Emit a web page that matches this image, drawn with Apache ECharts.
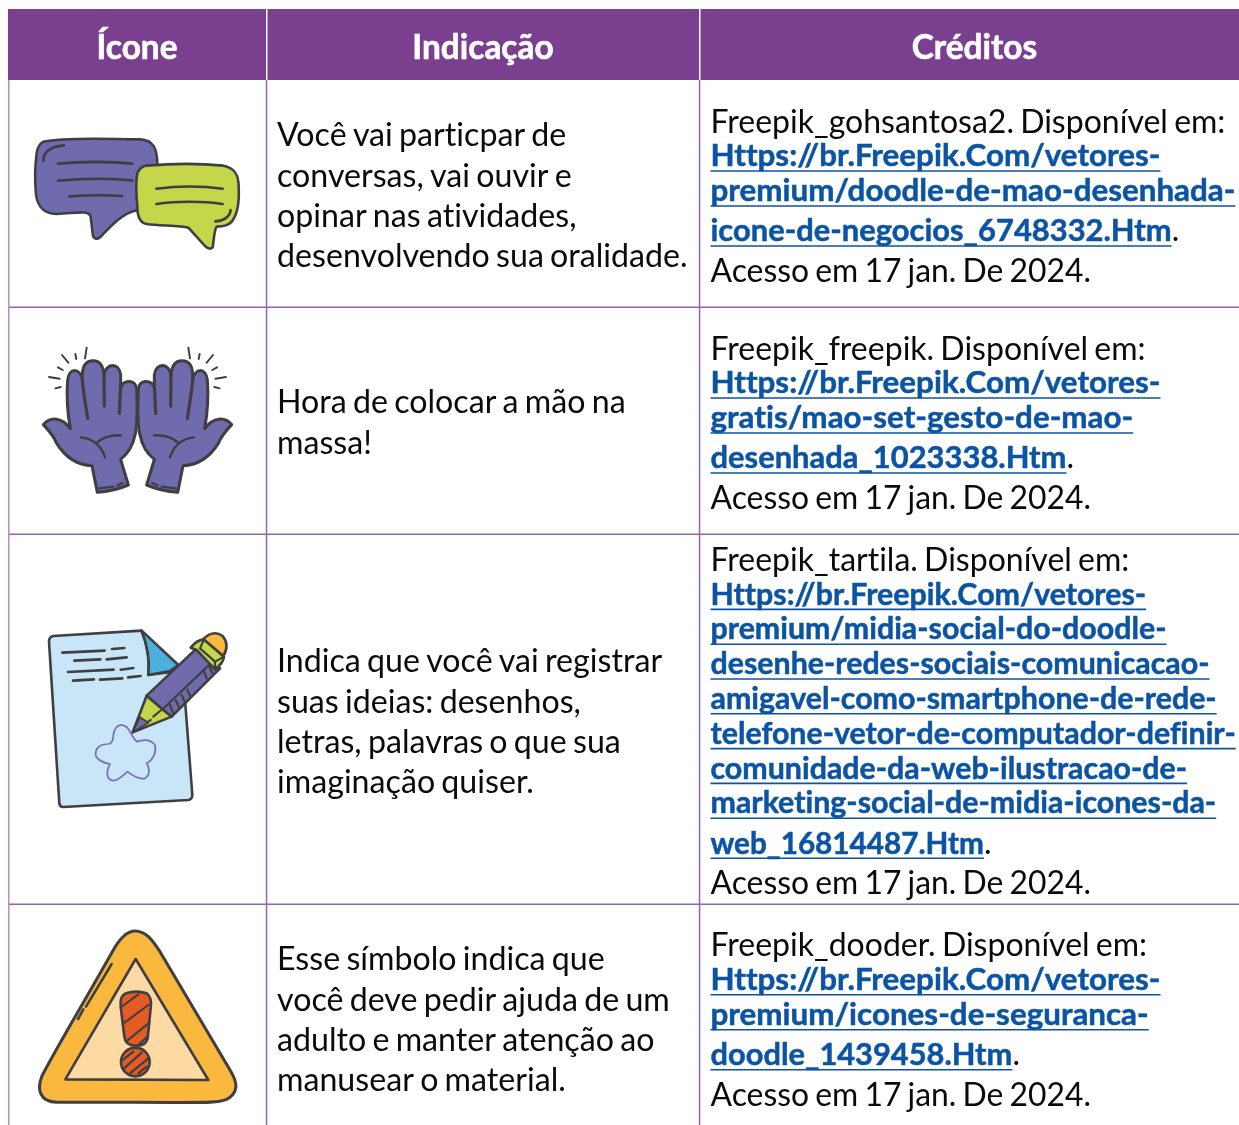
<!DOCTYPE html>
<html><head><meta charset="utf-8">
<style>html,body{margin:0;padding:0;background:#fff}#c{width:1239px;height:1125px}</style>
<script src="https://cdn.jsdelivr.net/npm/echarts@6/dist/echarts.min.js"></script>
</head><body><div id="c"></div>
<script>
const headers = ['Ícone','Indicação','Créditos'];
const indications = [
 ['Você vai particpar de','conversas, vai ouvir e','opinar nas atividades,','desenvolvendo sua oralidade.'],
 ['Hora de colocar a mão na','massa!'],
 ['Indica que você vai registrar','suas ideias: desenhos,','letras, palavras o que sua','imaginação quiser.'],
 ['Esse símbolo indica que','você deve pedir ajuda de um','adulto e manter atenção ao','manusear o material.']
];
const creditTitles = ['Freepik_gohsantosa2. Disponível em:','Freepik_freepik. Disponível em:','Freepik_tartila. Disponível em:','Freepik_dooder. Disponível em:'];
const creditLinks = [
 ['Https://br.Freepik.Com/vetores-','premium/doodle-de-mao-desenhada-','icone-de-negocios_6748332.Htm'],
 ['Https://br.Freepik.Com/vetores-','gratis/mao-set-gesto-de-mao-','desenhada_1023338.Htm'],
 ['Https://br.Freepik.Com/vetores-','premium/midia-social-do-doodle-','desenhe-redes-sociais-comunicacao-','amigavel-como-smartphone-de-rede-','telefone-vetor-de-computador-definir-','comunidade-da-web-ilustracao-de-','marketing-social-de-midia-icones-da-','web_16814487.Htm'],
 ['Https://br.Freepik.Com/vetores-','premium/icones-de-seguranca-','doodle_1439458.Htm']
];
const creditAccess = 'Acesso em 17 jan. De 2024.';

// Tight word spacing and no ligatures, as in the reference's typesetting
function spacing(ctx){ctx.letterSpacing='0.01px';ctx.wordSpacing='-2px';}
['fillText','strokeText'].forEach(m=>{
 const orig=CanvasRenderingContext2D.prototype[m];
 CanvasRenderingContext2D.prototype[m]=function(){spacing(this);return orig.apply(this,arguments);};
});

const PURPLE='#7b3f8f', LINE='#9464ab', INK='#3f3f41', BLUE='#6f6bad', GREEN='#c5d64b', SKY='#c9e6f9', OR='#fbb83f', TEXT='#0a0a0a', LINK='#0b54a4';
const REG='"Lato"', W1=8, X1=266, X2=699, RIGHT=1239;
const rowTops=[80,307,534,904,1125];
const indBase=[146,413,672,970], credBase=[132.3,359.3,570.7,956];
const linkSize=[31.35,31.35,30.35,31.35], linkLastSize=[30.9,30.9,29.7,30.8], linkStep=[35,35,34.8,35];
const BASE_K=0.81;
const measure=document.createElement('canvas').getContext('2d');
spacing(measure);

function p(d,fill,lw,stroke){return {type:'path',shape:{pathData:d},style:{fill:fill||'none',stroke:stroke||INK,lineWidth:(lw==null?6:lw)*1.3,lineCap:'round',lineJoin:'round'}};}
function txt(text,x,y,weight,size,fill,align,bolden){
 const style={text,x,y:y-size*BASE_K,font:weight+' '+size+'px '+REG,fill,textAlign:align||'left',textBaseline:'top'};
 if(bolden){style.stroke=fill;style.lineWidth=bolden;}
 return {type:'text',style};
}
function rect(x,y,w,h,fill){return {type:'rect',shape:{x,y,width:w,height:h},style:{fill}};}

const HAND=[
 p('M292 577L276 497C230 495 195 470 170 430C160 405 145 390 130 374C150 350 185 350 211 386C203 340 199 290 203 240C207 202 240 202 247 240C245 200 255 182 280 182C300 182 310 200 312 225C316 190 358 185 362 225L362 262C372 238 408 238 410 268C412 320 412 380 405 405C400 430 385 460 362 478L385 555C350 570 320 575 292 577Z',BLUE,7),
 p('M247 240C250 280 258 320 263 355M312 225L313 318M362 255L358 340',null,7.5),
 p('M243 412C280 415 305 440 315 472M290 428C310 410 335 405 363 406',null,5.5),
 p('M298 565L340 560M352 556L368 549',null,5.5),
 p('M260 143L255 175M226 162L229 177M186 165L205 188M174 202L188 210M147 231L179 236M166 265L182 261',null,4.5)
];
const ICONS=[
 [
  p('M130 425C200 410 340 418 420 418C460 420 472 445 472 495L472 630L405 632C370 640 340 670 300 712C285 722 278 712 278 700L272 650C265 630 240 638 170 642C125 642 108 610 107 570C104 530 106 490 110 460C113 440 120 430 130 425Z',BLUE),
  p('M130 482C130 455 150 440 192 436M174 491C240 485 330 484 397 491M174 542C240 536 330 534 397 541M208 589C260 585 320 585 367 588',null,6),
  p('M440 497C520 490 600 490 670 497C705 503 716 525 716 560C718 600 716 640 695 665C685 677 665 680 650 680C642 690 642 720 638 742C630 750 622 745 615 738L565 683C540 675 480 678 440 672C420 668 412 650 412 620C408 580 408 540 412 520C418 505 428 498 440 497Z',GREEN),
  p('M469 566C530 558 610 558 668 566M469 612C530 603 610 603 668 612M646 664C670 664 690 650 692 630',null,6)
 ],
 [...HAND, {type:'group',x:825,scaleX:-1,children:HAND}],
 [
  p('M160 108L425 92C440 130 450 180 445 225L520 215L555 300L577 585Q577 598 565 600L190 621Q180 622 178 610L147 125Q147 110 160 108Z',SKY),
  p('M425 92L535 195L510 213L445 225C450 180 440 130 425 92Z','#4bb0e0'),
  p('M187 158L314 152M336 147L373 144M223 182L301 178M320 178L380 172M204 216L341 209M362 209L400 204M219 242L282 238M300 239L367 235M384 232L422 228',null,6),
  p('M390 395C375 365 345 370 340 405C340 420 338 430 325 432C300 432 285 445 287 465C290 480 315 490 330 492C318 515 318 540 340 542C360 540 370 525 382 515C395 525 415 540 435 535C450 525 450 505 440 490C460 480 470 455 465 435C450 415 430 418 410 425C400 415 395 405 390 395Z','none',4,'#7a6fb8'),
  p('M398 397L440 287L515 350Z',GREEN),
  p('M398 397L420 352L445 368Z',BLUE,4),
  p('M440 287L590 145L660 205L515 350Z',BLUE),
  p('M498 318L630 192',null,5),
  p('M510 315L520 340M527 300L538 325M545 285L556 310M562 268L572 292M612 215L620 235M628 198L636 218',null,5),
  p('M572 143Q590 120 612 118L672 170Q670 190 645 208L590 150Z',GREEN),
  p('M600 145L612 118M600 145L645 185L645 208M645 185L672 170',null,5),
  p('M610 117Q640 88 668 108Q690 135 670 168Z',OR),
  p('M460 350L498 318M445 365L452 360',null,5)
 ],
 [
  p('M405 93C440 93 460 125 480 155L690 510C715 550 715 580 680 598C650 610 620 607 400 607L170 607C120 605 110 570 125 530C160 460 250 310 340 150C360 115 380 93 405 93Z',OR,7),
  p('M407 177L625 540L196 538Z','#fddaa4'),
  p('M335 192L258 320M250 328L234 357',null,6),
  p('M378 280C400 273 425 275 440 280C453 290 455 305 452 325L443 415C440 432 428 438 405 437C385 437 375 428 373 410L362 320C360 300 365 285 378 280Z','#e45b23',6),
  p('M368 318L415 283M368 372L445 315M378 425L448 368M415 435L442 410',null,5),
  {type:'circle',shape:{cx:406,cy:486,r:43},style:{fill:'#e45b23',stroke:INK,lineWidth:8}},
  p('M368 480L400 455M372 505L425 458M390 520L445 475M415 520L440 500',null,5)
 ]
];
const ICON_OFFSET=[0,300,600,900];

function renderFrame(){
 const ch=[rect(W1,9,RIGHT-W1,71,PURPLE)];
 ch.push(rect(X1,9,1.5,71,'#fff'),rect(X2,9,1.5,71,'#fff'));
 ch.push(txt(headers[0],137,58.3,700,33.4,'#fff','center',0.6),txt(headers[1],483,58.3,700,33.4,'#fff','center',0.6),txt(headers[2],974.5,58.3,700,33.4,'#fff','center',0.6));
 rowTops.slice(1,4).forEach(y=>ch.push(rect(W1,y-0.5,RIGHT-W1,1.5,LINE)));
 ch.push(rect(W1,80,1.5,1045,'#b48fc6'),rect(X1-0.2,80,1.5,1045,LINE),rect(X2-0.2,80,1.5,1045,LINE));
 return ch;
}
function renderRow(i){
 const ch=[];
 ch.push({type:'group',scaleX:1/3,scaleY:1/3,y:ICON_OFFSET[i],children:ICONS[i]});
 indications[i].forEach((t,k)=>ch.push(txt(t,277,indBase[i]+k*40.2,400,32.15,TEXT)));
 let y=credBase[i];
 ch.push(txt(creditTitles[i],710.5,y,400,32,TEXT));
 y+=33.7;
 const links=creditLinks[i];
 links.forEach((t,k)=>{
   const last=k===links.length-1, size=last?linkLastSize[i]:linkSize[i];
   ch.push(txt(t,710.5,y,700,size,LINK,'left',0.5));
   measure.font='700 '+size+'px '+REG;
   const w=measure.measureText(t).width;
   ch.push(rect(710.5,y+4.2,w,1.6,LINK));
   if(last){ch.push(txt('.',710.5+w,y,400,32,TEXT));}
   y+= k===links.length-2?40:linkStep[i];
 });
 y+=5.6;
 ch.push(txt(creditAccess,710.5,y,400,31.85,TEXT));
 return ch;
}
const chart=echarts.init(document.getElementById('c'),null,{renderer:'canvas',width:1239,height:1125});
chart.setOption({
 animation:false,
 backgroundColor:'#fff',
 series:[{
  type:'custom',coordinateSystem:'none',silent:true,clip:false,
  data:[-1,0,1,2,3],
  renderItem(params,api){
    const i=api.value(0);
    return {type:'group',children:i<0?renderFrame():renderRow(i)};
  }
 }]
});
</script></body></html>
